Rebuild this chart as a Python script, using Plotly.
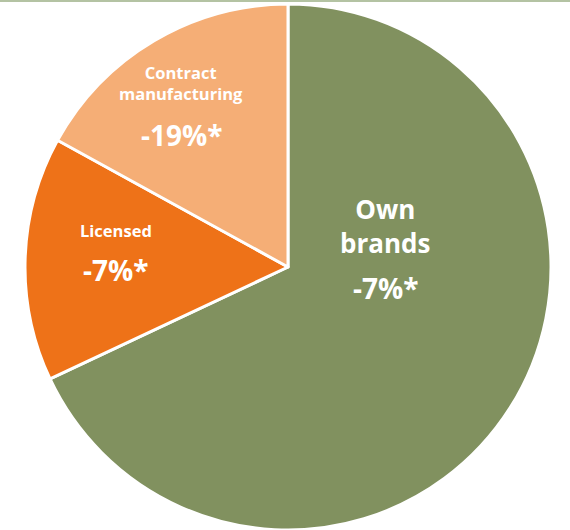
import plotly.graph_objects as go

# Sales split by business segment (share of total, %) and year-on-year change
segments = ["Own brands", "Licensed", "Contract manufacturing"]
shares = [68, 15, 17]
changes = ["-7%*", "-7%*", "-19%*"]
colors = ["#81915F", "#EE7218", "#F5AE76"]

W, H = 570, 530

fig = go.Figure(
    go.Pie(
        labels=segments,
        values=shares,
        sort=False,
        direction="clockwise",
        rotation=0,
        textinfo="none",
        hoverinfo="label+percent",
        marker=dict(colors=colors, line=dict(color="white", width=3)),
        domain=dict(x=[24 / W, 552 / W], y=[0.0, 526 / H]),
        showlegend=False,
    )
)

# In-slice labels: segment name (line breaks as laid out) and the change figure
name_lines = ["Own<br>brands", "Licensed", "Contract<br>manufacturing"]
name_pos = [(385, 226), (116, 230), (181, 83)]
name_size = [26, 16.5, 16.5]
change_pos = [(386, 288), (116, 270), (182, 135)]

font_family = "Open Sans, DejaVu Sans, sans-serif"
annotations = []
for txt, (px, py), fs in zip(name_lines, name_pos, name_size):
    annotations.append(dict(
        x=px / W, y=1 - py / H, xref="paper", yref="paper",
        text=f"<b>{txt}</b>", showarrow=False,
        font=dict(family=font_family, size=fs, color="white"),
        xanchor="center", yanchor="middle", align="center",
    ))
for txt, (px, py) in zip(changes, change_pos):
    annotations.append(dict(
        x=px / W, y=1 - py / H, xref="paper", yref="paper",
        text=f"<b>{txt}</b>", showarrow=False,
        font=dict(family=font_family, size=28, color="white"),
        xanchor="center", yanchor="middle",
    ))

fig.update_layout(
    width=W, height=H,
    margin=dict(l=0, r=0, t=0, b=0),
    paper_bgcolor="white",
    plot_bgcolor="white",
    annotations=annotations,
    shapes=[dict(
        type="line", xref="paper", yref="paper",
        x0=0, x1=1, y0=1 - 1 / H, y1=1 - 1 / H,
        line=dict(color="#B4C3A3", width=2),
    )],
)

fig.write_html("out.html")
